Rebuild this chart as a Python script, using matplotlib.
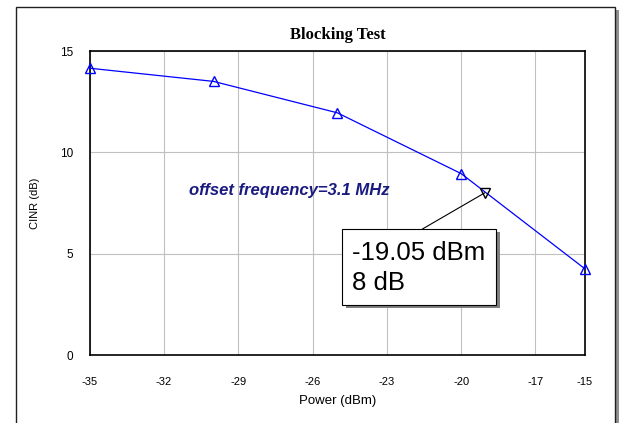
import matplotlib
matplotlib.use("Agg")
import matplotlib.pyplot as plt
from matplotlib.patches import Rectangle

power = [-35, -30, -25, -20, -15]
cinr = [14.15, 13.5, 11.95, 8.95, 4.25]
marker_x = -19.05
marker_y = 8.0
xticks = [-35, -32, -29, -26, -23, -20, -17, -15]
yticks = [0, 5, 10, 15]

W, H = 621, 423
fig = plt.figure(figsize=(W/100, H/100), dpi=100)
plt.rcParams['font.family'] = ['Liberation Sans', 'DejaVu Sans']

# outer frame with shadow
fig.patches.append(Rectangle((19/W, -0.1), 600/W, 1.1-10/H, transform=fig.transFigure,
                             facecolor='#909090', edgecolor='none', zorder=0))
fig.patches.append(Rectangle((15.5/W, -0.1), 599.5/W, 1.1-7/H, transform=fig.transFigure,
                             facecolor='white', edgecolor='#202020', linewidth=1, zorder=1))

L, R, T, B = 89.7, 585, 51, 355
ax = fig.add_axes([L/W, 1-B/H, (R-L)/W, (B-T)/H])
ax.set_zorder(2)
ax.set_xlim(-35, -15)
ax.set_ylim(0, 15)
ax.set_xticks(xticks)
ax.set_yticks(yticks)
ax.set_xticklabels([str(t) for t in xticks], fontsize=8)
ax.set_yticklabels([str(t) for t in yticks], fontsize=8.5)
ax.tick_params(length=0)
ax.tick_params(axis='x', pad=16)
ax.tick_params(axis='y', pad=12)
ax.grid(True, color='#c0c0c0', linewidth=0.8)
for s in ax.spines.values():
    s.set_linewidth(1.2)

ax.plot(power, cinr, color='#0000ff', linewidth=0.9, marker='^', markersize=7,
        markerfacecolor='none', markeredgecolor='#0000ff', clip_on=False, zorder=3)
ax.plot([marker_x], [marker_y], marker='v', markersize=7, markerfacecolor='none',
        markeredgecolor='black', linestyle='none', zorder=4, clip_on=False)

ax.text(0.5, (B-35)/(B-T), 'Blocking Test', transform=ax.transAxes, fontsize=12,
        fontweight='bold', family='Liberation Serif', ha='center', va='center')
ax.set_xlabel('Power (dBm)', fontsize=9.5, va='center')
ax.xaxis.set_label_coords(0.5, (B-401)/(B-T))
ax.set_ylabel('CINR (dB)', fontsize=8, va='center')
ax.yaxis.set_label_coords((35-L)/(R-L), 0.5)

ax.text(-31.0, 8.1, 'offset frequency=3.1 MHz', fontsize=12, fontweight='bold',
        fontstyle='italic', color='#1a1a80', ha='left', va='center')

# label box
bx0, bx1 = -24.8, -18.59
by0, by1 = 2.47, 6.22
dx, dy = 0.14, -0.17
ax.add_patch(Rectangle((bx0 + dx, by0 + dy), bx1 - bx0, by1 - by0, facecolor='#808080',
                       edgecolor='none', zorder=5))
ax.add_patch(Rectangle((bx0, by0), bx1 - bx0, by1 - by0, facecolor='white',
                       edgecolor='black', linewidth=0.8, zorder=6))
ax.plot([-21.56, marker_x], [by1, marker_y], color='black', linewidth=0.8, zorder=4)
ax.text(bx0 + 0.4, 5.03, '%.2f dBm' % marker_x, fontsize=18.5, va='center', ha='left', zorder=7)
ax.text(bx0 + 0.4, 3.55, '%g dB' % marker_y, fontsize=18.5, va='center', ha='left', zorder=7)

fig.savefig('out.png', dpi=100)
